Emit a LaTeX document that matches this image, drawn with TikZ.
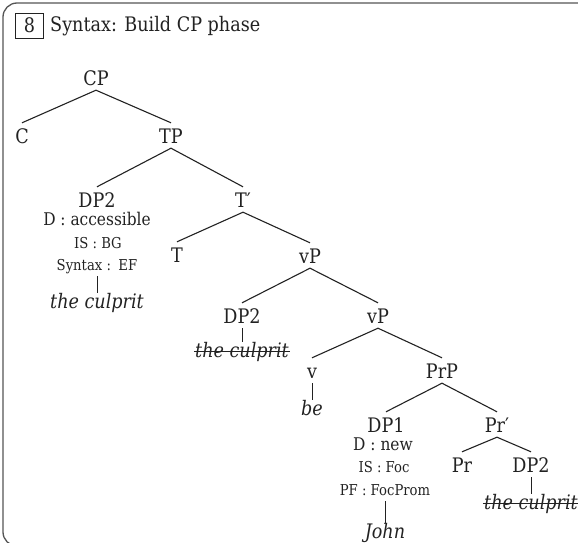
\documentclass[tikz,border=0pt]{standalone}
\usepackage{fontspec}
\setmainfont{DejaVu Serif}[FakeStretch=0.88]
\definecolor{ink}{HTML}{222222}
\definecolor{rim}{HTML}{555555}

\begin{document}
\begin{tikzpicture}[x = 1pt, y = -1pt]
    \useasboundingbox (0,0) rectangle (578,543);

    \tikzset{
      cat/.style     = {anchor = base, inner sep = 5pt, text height = 15pt, text depth = 0pt,
                        font = \fontsize{20}{24}\selectfont, text = ink},
      feat/.style    = {anchor = base, inner sep = 3pt, text height = 11pt, text depth = 3pt,
                        font = \fontsize{15}{18}\selectfont, text = ink},
      bigfeat/.style = {feat, font = \fontsize{17.5}{21}\selectfont},
      leaf/.style    = {anchor = base, inner sep = 1pt, text height = 14pt, text depth = 4pt,
                        font = \fontsize{20}{24}\selectfont\itshape, text = ink},
      struck/.style  = {leaf, append after command = {
                          ([yshift = 5.5pt]\tikzlastnode.base west)
                          edge[draw = ink, line width = 0.9pt]
                          ([yshift = 5.5pt]\tikzlastnode.base east)}},
      branch/.style  = {draw = ink, line width = 1.1pt},
      lexline/.style = {draw = ink, line width = 0.8pt}
    }

    % panel frame
    \draw[rim, line width = 1.3pt, rounded corners = 14pt] (3,3) rectangle (600,546);

    % heading
    \node[draw = ink, line width = 0.9pt, anchor = base, inner xsep = 8pt, inner ysep = 5pt,
          text height = 14.5pt, text depth = 0pt, font = \fontsize{20}{24}\selectfont, text = ink]
          (num) at (29.5,33) {8};
    \node[anchor = base west, inner sep = 0pt, font = \fontsize{20}{24}\selectfont, text = ink]
          (title) at (50,32) {Syntax: Build CP phase};

    % categories
    \node[cat] (cp)    at (96,85)   {CP};
    \node[cat] (c)     at (22,143)  {C};
    \node[cat] (tp)    at (171,143) {TP};
    \node[cat] (dpa)   at (97,207)  {DP2};
    \node[cat] (tbar)  at (243,207) {T′};
    \node[cat] (t)     at (177,262) {T};
    \node[cat] (vpa)   at (310,263) {vP};
    \node[cat] (dpb)   at (242,323) {DP2};
    \node[cat] (vpb)   at (378,323) {vP};
    \node[cat] (v)     at (312,378) {v};
    \node[cat] (prp)   at (442,378) {PrP};
    \node[cat] (dp1)   at (386,432) {DP1};
    \node[cat] (prbar) at (497,432) {Pr′};
    \node[cat] (pr)    at (462,472) {Pr};
    \node[cat] (dpc)   at (531,472) {DP2};

    % feature stacks
    \node[bigfeat] (dpaD)   at (97,225)  {D : accessible};
    \node[feat]    (dpaIS)  at (98,248)  {IS : BG};
    \node[feat]    (dpaSyn) at (97,270)  {Syntax :\enspace EF};
    \node[bigfeat] (dp1D)   at (383,450) {D : new};
    \node[feat]    (dp1IS)  at (384,472) {IS : Foc};
    \node[feat]    (dp1PF)  at (385,495) {PF : FocProm};

    % words
    \node[leaf]   (dpaLex) at (97,308)  {the culprit};
    \node[struck] (dpbLex) at (242,357) {the culprit};
    \node[leaf]   (be)     at (312,415) {be};
    \node[leaf]   (john)   at (385,538) {John};
    \node[struck] (dpcLex) at (531,509) {the culprit};

    \foreach \p/\k in {cp/c, cp/tp, tp/dpa, tp/tbar, tbar/t, tbar/vpa, vpa/dpb, vpa/vpb,
                       vpb/v, vpb/prp, prp/dp1, prp/prbar, prbar/pr, prbar/dpc}
      \draw[branch] (\p.south) -- (\k.north);

    % lexical lines
    \foreach \p/\k in {dpaSyn/dpaLex, dpb/dpbLex, v/be, dp1PF/john, dpc/dpcLex}
      \draw[lexline] (\p.south) -- (\k.north);

\end{tikzpicture}
\end{document}
